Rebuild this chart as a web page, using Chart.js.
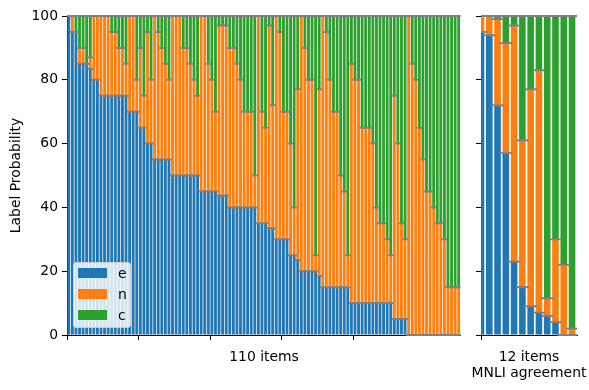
<!DOCTYPE html>
<html>
<head>
<meta charset="utf-8">
<script src="https://cdn.jsdelivr.net/npm/chart.js@4.4.0/dist/chart.umd.min.js"></script>
<style>
  html, body { margin: 0; padding: 0; background: #fff; }
  #wrap { position: relative; width: 589px; height: 390px; font-family: 'DejaVu Sans', sans-serif; color: #000; }
  canvas { position: absolute; top: 0; }
  #leftChart  { left: 0; }
  #rightChart { left: 470px; }
  .xtitle { position: absolute; text-align: center; font-size: 13.9px; line-height: 16px; white-space: nowrap; z-index: 2; }
  #legend { position: absolute; left: 73px; top: 262px; width: 58px; height: 66px; box-sizing: border-box;
            background: rgba(255,255,255,0.8); border: 1px solid #ccc; border-radius: 3px; z-index: 2; }
  .row { position: absolute; left: 4px; height: 16px; font-size: 13.9px; line-height: 16px; }
  .row span.patch { position: absolute; left: 0; top: 3px; width: 29px; height: 10.5px; }
  .row span.lab { position: absolute; left: 40px; top: 0; }
</style>
</head>
<body>
<div id="wrap">
  <canvas id="leftChart" width="470" height="390"></canvas>
  <canvas id="rightChart" width="119" height="390"></canvas>
  <div class="xtitle" style="left:67px; width:394px; top:348px;">110 items</div>
  <div class="xtitle" style="left:469px; width:120px; top:348px;">12 items<br>MNLI agreement</div>
  <div id="legend"></div>
</div>
<script>
// ── data: label probabilities (%) per item, sorted by e then n
const LABELS = ['e', 'n', 'c'];
const COLORS = ['#1f77b4', '#ff7f0e', '#2ca02c'];

const ITEM_E = [100, 95, 95, 85, 85, 85, 83.5, 80, 80, 75,
  75, 75, 75, 75, 75, 75, 75, 70, 70, 70,
  65, 65, 60, 60, 55, 55, 55, 55, 55, 50,
  50, 50, 50, 50, 50, 50, 50, 45, 45, 45,
  45, 45, 43.7, 43.7, 43.7, 40, 40, 40, 40, 40,
  40, 40, 40, 35, 35, 35, 33.5, 33.5, 30, 30,
  30, 30, 25, 25, 23.5, 20, 20, 20, 20, 20,
  18.5, 15, 15, 15, 15, 15, 15, 15, 15, 10,
  10, 10, 10, 10, 10, 10, 10, 10, 10, 10,
  10, 5, 5, 5, 5, 0, 0, 0, 0, 0,
  0, 0, 0, 0, 0, 0, 0, 0, 0, 0];
const ITEM_N = [0, 5, 0, 5, 5, 0, 3.5, 20, 20, 25,
  25, 25, 20, 20, 15, 15, 10, 30, 30, 10,
  25, 10, 35, 20, 45, 40, 35, 30, 25, 50,
  50, 50, 40, 40, 35, 30, 25, 55, 55, 40,
  35, 25, 53.3, 53.3, 53.3, 50, 50, 45, 40, 30,
  30, 30, 10, 65, 35, 30, 63.5, 38.5, 70, 65,
  40, 40, 35, 15, 53.5, 80, 70, 60, 60, 5,
  58.5, 85, 80, 65, 55, 55, 35, 30, 10, 75,
  70, 70, 55, 55, 55, 50, 30, 25, 25, 20,
  15, 70, 55, 30, 25, 100, 85, 80, 65, 55,
  45, 45, 40, 35, 35, 30, 15, 15, 15, 15];
const ITEM_C = [0, 0, 5, 10, 10, 15, 13, 0, 0, 0,
  0, 0, 5, 5, 10, 10, 15, 0, 0, 20,
  10, 25, 5, 20, 0, 5, 10, 15, 20, 0,
  0, 0, 10, 10, 15, 20, 25, 0, 0, 15,
  20, 30, 3, 3, 3, 10, 10, 15, 20, 30,
  30, 30, 50, 0, 30, 35, 3, 28, 0, 5,
  30, 30, 40, 60, 23, 0, 10, 20, 20, 75,
  23, 0, 5, 20, 30, 30, 50, 55, 75, 15,
  20, 20, 35, 35, 35, 40, 60, 65, 65, 70,
  75, 25, 40, 65, 70, 0, 15, 20, 35, 45,
  55, 55, 60, 65, 65, 70, 85, 85, 85, 85];

const MNLI_E = [95, 94, 72, 57, 23, 15, 9, 7, 6, 4, 0, 0];
const MNLI_N = [5, 6, 27, 34.5, 74, 46, 68, 76, 5.5, 26, 22, 2];
const MNLI_C = [0, 0, 1, 8.5, 3, 39, 23, 17, 88.5, 70, 78, 98];

const LEFT_TICKS  = 20;   // x tick step, left panel
const RIGHT_TICKS = 10;   // x tick step, right panel

Chart.defaults.font.family = "'DejaVu Sans', sans-serif";
Chart.defaults.font.size = 13.9;
Chart.defaults.color = '#000';

// gray marks at the top of every stacked segment
const segMarks = {
  id: 'segMarks',
  afterDatasetsDraw(chart) {
    const { ctx, chartArea: a } = chart;
    ctx.save();
    ctx.beginPath();
    ctx.rect(a.left, a.top - 3, a.right - a.left, a.bottom - a.top + 6);
    ctx.clip();
    ctx.strokeStyle = '#808080';
    ctx.lineWidth = 2;
    [0, 1, 2].forEach(d => {
      chart.getDatasetMeta(d).data.forEach(bar => {
        const half = bar.width * 0.95;
        ctx.beginPath();
        ctx.moveTo(bar.x - half, bar.y);
        ctx.lineTo(bar.x + half, bar.y);
        ctx.stroke();
      });
    });
    ctx.restore();
  }
};

function makeSets(series, offset) {
  return series.map((vals, k) => ({
    label: LABELS[k],
    data: vals.map((v, i) => ({ x: i + offset, y: v })),
    backgroundColor: COLORS[k],
    borderWidth: 0,
    inflateAmount: 0,
    barPercentage: 0.8,
    categoryPercentage: 1.0,
  }));
}

function makeChart(id, sets, xmax, step, yLabels, yWidth, padRight) {
  return new Chart(document.getElementById(id), {
    type: 'bar',
    data: { datasets: sets },
    options: {
      responsive: false,
      animation: false,
      devicePixelRatio: 1,
      layout: { padding: { top: 16, right: padRight, left: 0, bottom: 0 } },
      plugins: { legend: { display: false }, tooltip: { enabled: false } },
      scales: {
        x: {
          type: 'linear', stacked: true, offset: false, min: 0, max: xmax,
          ticks: { stepSize: step, callback: () => '' },
          afterBuildTicks: s => { s.ticks = s.ticks.filter(t => t.value % step === 0); },
          grid: { drawOnChartArea: false, offset: false, tickLength: 5, tickColor: '#000', tickWidth: 1 },
          border: { color: '#000', width: 1 },
          afterFit: s => { s.height = 55; },
        },
        y: {
          stacked: true, min: 0, max: 100,
          ticks: { stepSize: 20, padding: 4, callback: v => yLabels ? v : '' },
          grid: { drawOnChartArea: false, tickLength: 5, tickColor: '#000', tickWidth: 1 },
          border: { color: '#000', width: 1 },
          title: { display: yLabels, text: 'Label Probability', padding: { top: 8, bottom: 0 } },
          afterFit: s => { s.width = yWidth; },
        },
      },
    },
    plugins: [segMarks],
  });
}

makeChart('leftChart', makeSets([ITEM_E, ITEM_N, ITEM_C], 0.5), 110, LEFT_TICKS, true, 67, 9.5);
makeChart('rightChart', makeSets([MNLI_E, MNLI_N, MNLI_C], 0), 11.6, RIGHT_TICKS, false, 11, 12);

// legend box, bottom-left of the left panel
const legend = document.getElementById('legend');
LABELS.forEach((lab, k) => {
  const row = document.createElement('div');
  row.className = 'row';
  row.style.top = (1.5 + k * 21) + 'px';
  row.innerHTML = '<span class="patch" style="background:' + COLORS[k] + '"></span><span class="lab">' + lab + '</span>';
  legend.appendChild(row);
});
</script>
</body>
</html>
